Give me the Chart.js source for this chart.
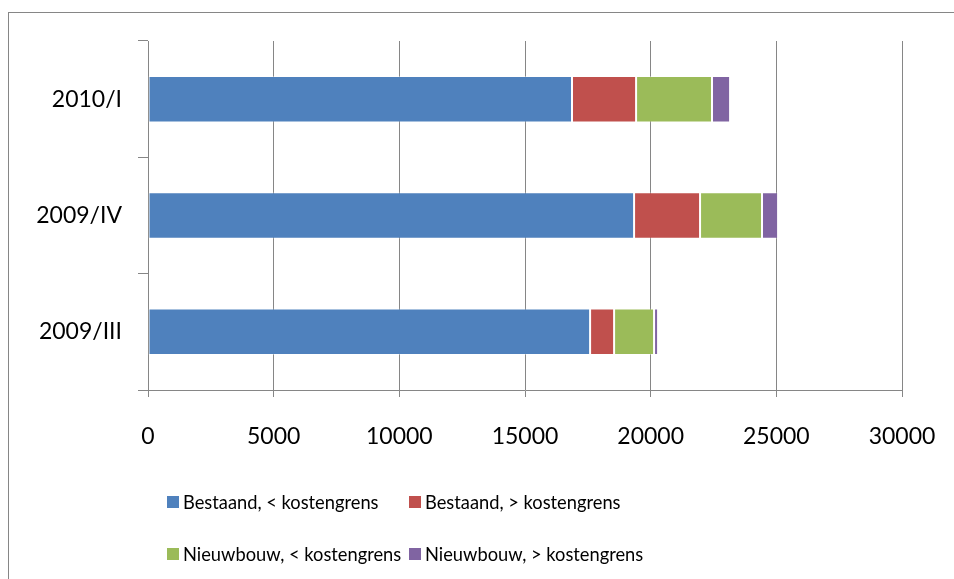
<!DOCTYPE html>
<html>
<head>
<meta charset="utf-8">
<script src="https://cdn.jsdelivr.net/npm/chart.js@4"></script>
<style>
  body { margin: 0; background: #fff; width: 954px; height: 579px; overflow: hidden; position: relative; font-family: Lato, sans-serif; }
  #frame { position: absolute; left: 8px; top: 12px; width: 960px; height: 600px; border: 1px solid #868686; box-sizing: border-box; }
  #myChart { position: absolute; left: 0; top: 0; }
  #legend { position: absolute; left: 167px; top: 490px; display: grid; grid-template-columns: 242px 260px; row-gap: 28px; font-size: 18.3px; color: #000; }
  .item { display: flex; align-items: center; white-space: nowrap; height: 24px; }
  .box { width: 12px; height: 12px; margin-right: 4px; }
</style>
</head>
<body>
<div id="frame"></div>
<canvas id="myChart" width="954" height="579"></canvas>
<div id="legend"></div>
<script>
// categories top to bottom, as in the picture
let periods = ['2010/I', '2009/IV', '2009/III'];

let seriesNames = ['Bestaand, < kostengrens', 'Bestaand, > kostengrens', 'Nieuwbouw, < kostengrens', 'Nieuwbouw, > kostengrens'];
let seriesColors = ['#4F81BD', '#C0504D', '#9BBB59', '#8064A2'];

let bestaandOnder = [16870, 19340, 17590];
let bestaandBoven = [2550, 2625, 955];
let nieuwbouwOnder = [3020, 2465, 1590];
let nieuwbouwBoven = [720, 640, 160];

let xTicks = [0, 5000, 10000, 15000, 20000, 25000, 30000];

let seriesValues = [bestaandOnder, bestaandBoven, nieuwbouwOnder, nieuwbouwBoven];

let chart = document.getElementById('myChart').getContext('2d');

let myChart = new Chart(chart, {
    type: 'bar',
    data: {
        labels: periods,
        datasets: seriesNames.map(function(name, i) {
            return {
                label: name,
                data: seriesValues[i],
                backgroundColor: seriesColors[i],
                borderColor: 'rgba(255,255,255,0.35)',
                borderWidth: 1,
                borderSkipped: false,
                barPercentage: 0.4,
                categoryPercentage: 1.0
            };
        })
    },
    options: {
        indexAxis: 'y',
        responsive: false,
        animation: false,
        layout: { padding: { left: 0, top: 41, right: 52, bottom: 129 } },
        plugins: {
            legend: { display: false },
            tooltip: { enabled: false }
        },
        scales: {
            x: {
                stacked: true,
                min: 0,
                max: 30000,
                afterBuildTicks: function(scale) {
                    scale.ticks = xTicks.map(function(v) { return { value: v }; });
                },
                afterFit: function(scale) {
                    scale.height = 60;
                    // keep the label padding from shrinking the plot
                    scale.paddingLeft = 0;
                    scale.paddingRight = 0;
                },
                grid: { color: '#868686', lineWidth: 1, tickLength: 7 },
                border: { color: '#868686', width: 1 },
                ticks: {
                    color: '#000',
                    font: { family: 'Lato', size: 23 },
                    padding: 26,
                    maxRotation: 0,
                    callback: function(v) { return String(v); } // no thousands separator
                }
            },
            y: {
                stacked: true,
                afterFit: function(scale) { scale.width = 148; },
                grid: { drawOnChartArea: false, color: '#868686', lineWidth: 1, tickLength: 10, offset: true },
                border: { color: '#868686', width: 1 },
                ticks: { color: '#000', font: { family: 'Lato', size: 23 }, padding: 16 }
            }
        }
    }
});

// legend laid out like the original two-by-two grid
let legend = document.getElementById('legend');
myChart.data.datasets.forEach(function(ds) {
    let item = document.createElement('div');
    item.className = 'item';
    let box = document.createElement('span');
    box.className = 'box';
    box.style.background = ds.backgroundColor;
    let text = document.createElement('span');
    text.textContent = ds.label;
    item.appendChild(box);
    item.appendChild(text);
    legend.appendChild(item);
});
</script>
</body>
</html>
